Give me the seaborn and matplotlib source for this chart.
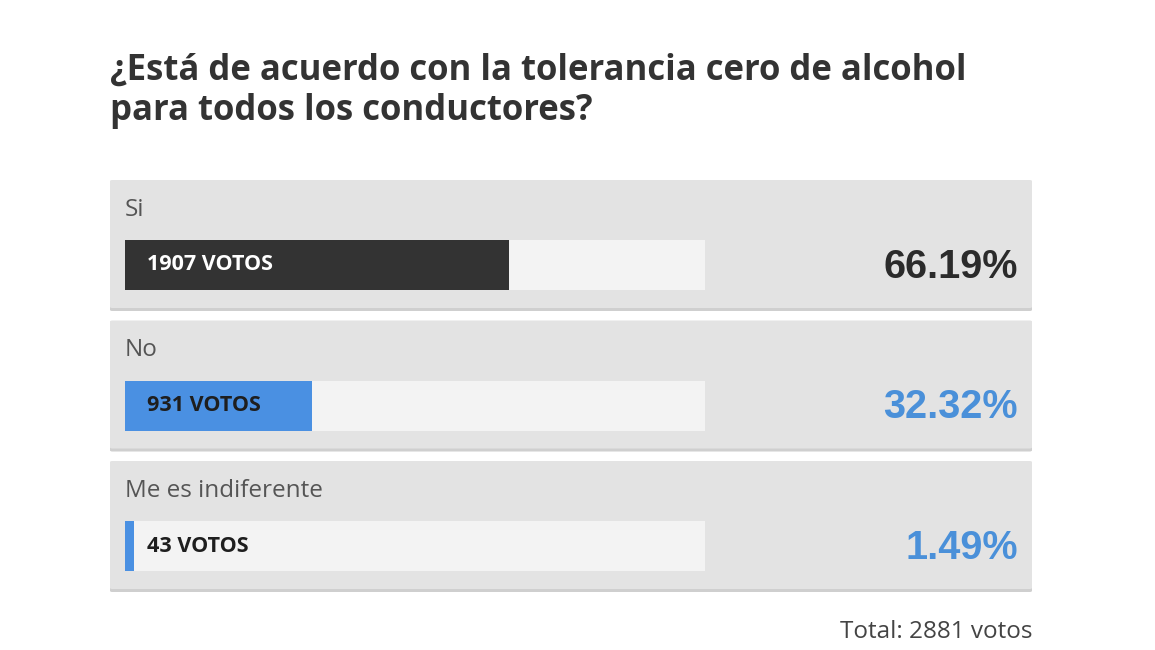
import matplotlib
matplotlib.use("Agg")
import matplotlib.pyplot as plt
import seaborn as sns
import pandas as pd
from matplotlib.patches import FancyBboxPatch

# datos de la encuesta
opciones = ["Si", "No", "Me es indiferente"]
votos = [1907, 931, 43]
porcentajes = [66.19, 32.32, 1.49]
total_votos = 2881
titulo = "¿Está de acuerdo con la tolerancia cero de alcohol\npara todos los conductores?"

colores_barra = ["#333333", "#4a90e2", "#4a90e2"]
colores_pct = ["#2b2b2b", "#4a90d9", "#4a90d9"]
colores_votos = ["white", "#1e1e1e", "#1e1e1e"]

df = pd.DataFrame({"opcion": opciones, "votos": votos, "pct": porcentajes, "fondo": [100] * 3})

sns.set_theme(style="white")
plt.rcParams["font.family"] = ["Open Sans", "DejaVu Sans"]

W, H = 1155, 650
fig = plt.figure(figsize=(W / 100, H / 100), dpi=100)
fig.patch.set_facecolor("white")

# eje = zona de la pista de la barra (pixeles 125..705 en x, 180..590 en y)
ax = fig.add_axes([125 / W, 1 - 590 / H, 580 / W, 410 / H])
unidad = 140.5  # px por categoria

# paneles grises
x0 = -15 / 580 * 100
x1 = (1032 - 125) / 580 * 100
for i in range(len(opciones)):
    sombra = FancyBboxPatch((x0, i - 85 / unidad + 3 / unidad), x1 - x0, 128 / unidad,
                            boxstyle="round,pad=0,rounding_size=0.4", fc="#cfcfcf", ec="none",
                            clip_on=False, zorder=0, mutation_aspect=0.02)
    ax.add_patch(sombra)
    panel = FancyBboxPatch((x0, i - 85 / unidad), x1 - x0, 128 / unidad,
                           boxstyle="round,pad=0,rounding_size=0.4", fc="#e3e3e3", ec="none",
                           clip_on=False, zorder=0.5, mutation_aspect=0.02)
    ax.add_patch(panel)

# pista clara y barra de porcentaje
alto = 50 / unidad
sns.barplot(data=df, x="fondo", y="opcion", orient="h", color="#f3f3f3", width=alto,
            saturation=1, linewidth=0, ax=ax, zorder=1)
sns.barplot(data=df, x="pct", y="opcion", orient="h", hue="opcion", palette=colores_barra,
            width=alto, saturation=1, linewidth=0, ax=ax, legend=False, zorder=2)
ax.set_xlim(0, 100)
ax.set_ylim(2 + 44 / unidad, -85 / unidad)
ax.axis("off")

x_pct = (1018 - 125) / 580 * 100
for i, (op, v, p) in enumerate(zip(opciones, votos, porcentajes)):
    ax.text(0, i - 55 / unidad, op, fontsize=17.5, color="#555555", ha="left", va="center",
            zorder=3, clip_on=False)
    ax.text(22 / 580 * 100, i, f"{v} VOTOS", fontsize=15.5, fontweight="bold",
            color=colores_votos[i], ha="left", va="center", zorder=3)
    ax.text(x_pct, i + 2 / unidad, f"{p:.2f}%", fontsize=28.5, fontweight="bold",
            color=colores_pct[i], ha="right", va="center",
            family=["Liberation Sans", "DejaVu Sans"], zorder=3, clip_on=False)

fig.text(110 / W, 1 - 53 / H, titulo, fontsize=25, fontweight="bold", color="#333333",
         ha="left", va="top", linespacing=1.15)
fig.text(1032 / W, 1 - 632 / H, f"Total: {total_votos} votos", fontsize=17.5, color="#444444",
         ha="right", va="center")

fig.savefig("out.png", dpi=100)
